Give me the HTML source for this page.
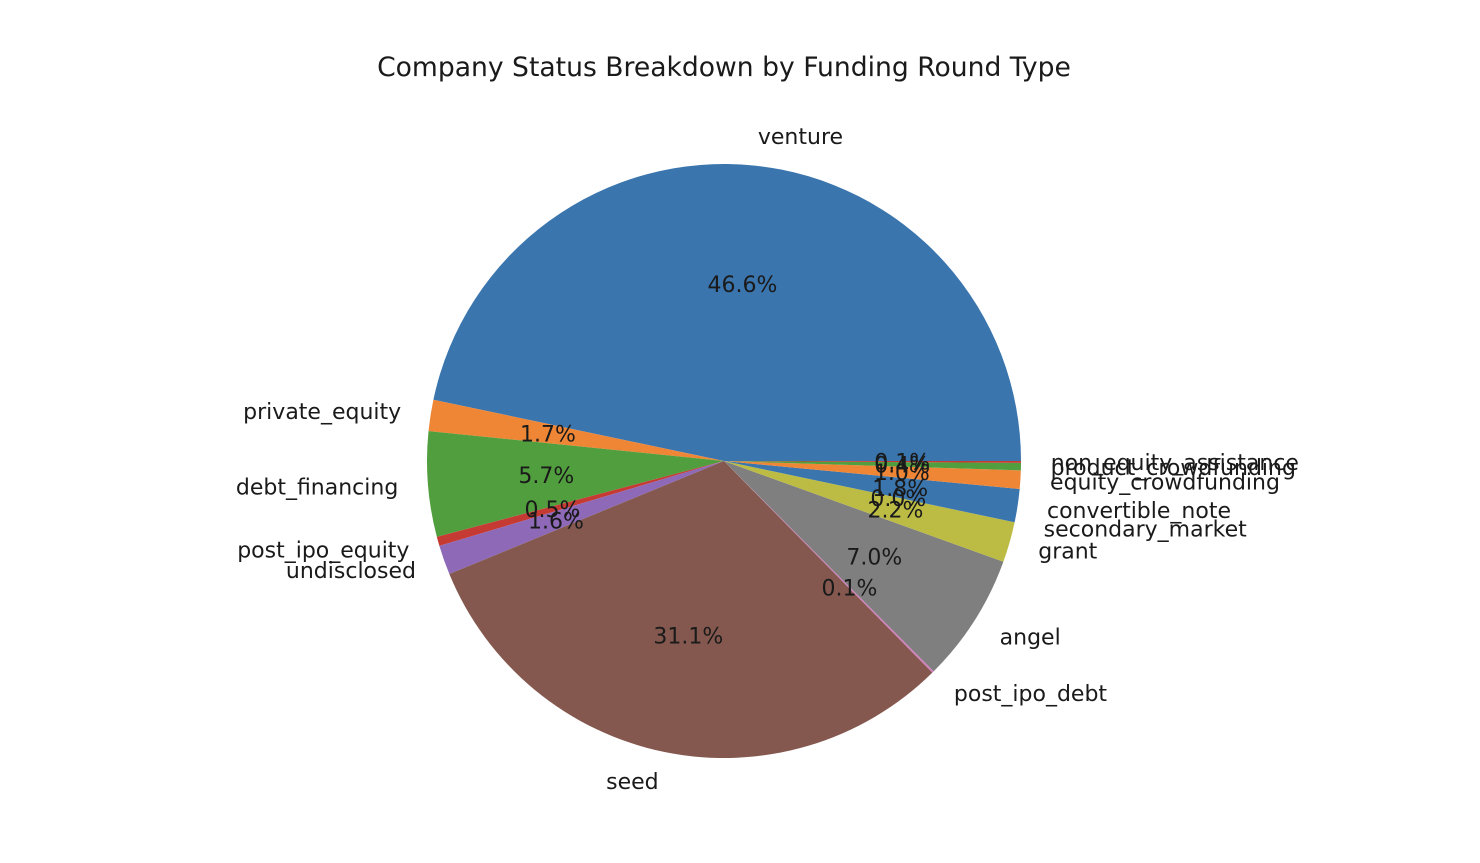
<!DOCTYPE html>
<html><head><meta charset="utf-8">
<style>
body{margin:0;background:#fff;}
svg text{font-family:"DejaVu Sans","Liberation Sans",sans-serif;fill:#1a1a1a;}
</style></head>
<body>
<svg id="chart" width="1480" height="858">
<text x="724" y="76" text-anchor="middle" font-size="26.6">Company Status Breakdown by Funding Round Type</text>
<g id="slices"></g><g id="labels"></g>
</svg>
<script>
const categories = ["venture","private_equity","debt_financing","post_ipo_equity","undisclosed","seed","post_ipo_debt","angel","grant","secondary_market","convertible_note","equity_crowdfunding","product_crowdfunding","non_equity_assistance"];
const values = [46.6,1.7,5.7,0.5,1.6,31.1,0.1,7.0,2.2,0.0,1.8,1.0,0.4,0.1];
const colors = ["#3a75ae","#ef8636","#519e3e","#c53a32","#8d69b8","#84584e","#d57dbe","#7f7f7f","#bcbc45","#58bbcc"];
const cx=724, cy=461, R=297;
const NS="http://www.w3.org/2000/svg";
const sg=document.getElementById('slices'), lg=document.getElementById('labels');
const total=values.reduce((a,b)=>a+b,0);
let a0=0;
function pt(a,r){return [cx+r*Math.cos(a*Math.PI/180), cy-r*Math.sin(a*Math.PI/180)];}
categories.forEach((c,i)=>{
  const sweep=values[i]/total*360, a1=a0+sweep;
  const p0=pt(a0,R), p1=pt(a1,R);
  const path=document.createElementNS(NS,'path');
  path.setAttribute('d',`M${cx},${cy} L${p0[0]},${p0[1]} A${R},${R} 0 ${sweep>180?1:0} 0 ${p1[0]},${p1[1]} Z`);
  path.setAttribute('fill',colors[i%colors.length]);
  
  
  sg.appendChild(path);
  const mid=(a0+a1)/2;
  const lp=pt(mid,R*1.1);
  const t=document.createElementNS(NS,'text');
  t.setAttribute('x',lp[0]);t.setAttribute('y',lp[1]+8);
  t.setAttribute('font-size','22');
  t.setAttribute('text-anchor',lp[0]>=cx?'start':'end');
  t.textContent=c;
  
  
  lg.appendChild(t);
  const pp=pt(mid,R*0.6);
  const p=document.createElementNS(NS,'text');
  p.setAttribute('x',pp[0]);p.setAttribute('y',pp[1]+8);
  p.setAttribute('font-size','22');
  p.setAttribute('text-anchor','middle');
  p.textContent=values[i].toFixed(1)+'%';
  
  
  lg.appendChild(p);
  a0=a1;
});
</script>
</body></html>
